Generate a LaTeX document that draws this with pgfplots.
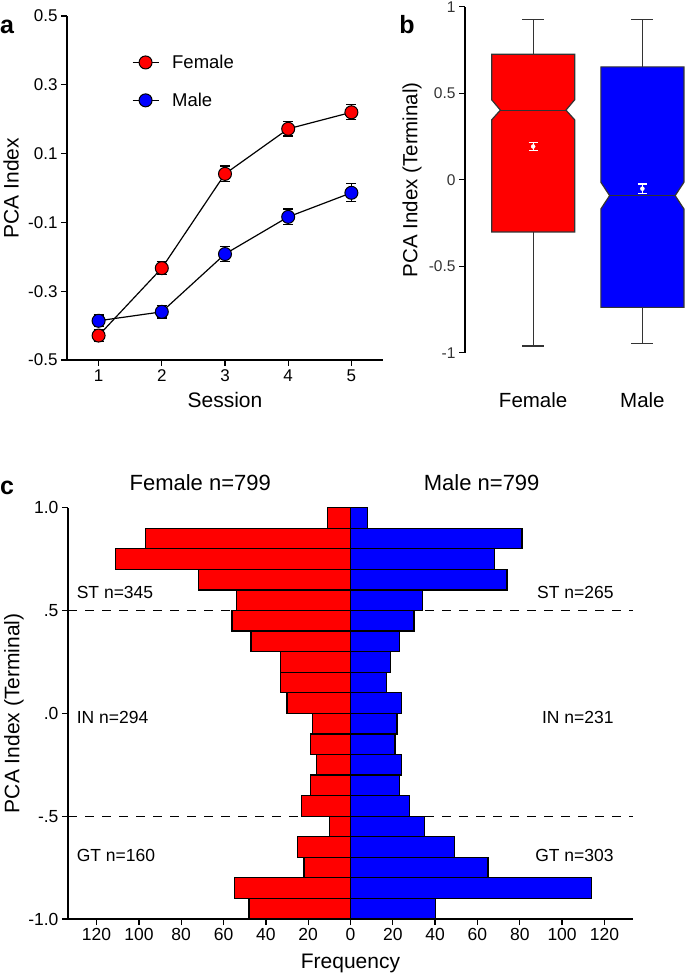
\documentclass[border=0pt]{standalone}
\usepackage{fontspec}
\setmainfont{Liberation Sans}
\usepackage{pgfplots}
\usepackage{pgfplotstable}
\pgfplotsset{compat=1.18}
\newcommand\fs[1]{\fontsize{#1}{#1}\selectfont}
\definecolor{dgray}{HTML}{333333}

\pgfplotstableread{
s F Fe M Me
1 -0.429 0.017 -0.386 0.017
2 -0.233 0.019 -0.360 0.018
3 0.041 0.023 -0.192 0.022
4 0.172 0.021 -0.084 0.023
5 0.220 0.022 -0.014 0.026
}\sessiondata

\begin{document}
\begin{tikzpicture}
\path[use as bounding box] (0pt,0pt) rectangle (685pt,974pt);

\pgfplotsset{
  myaxis/.style={
    scale only axis, anchor=south west,
    /pgf/number format/assume math mode=true,
    axis lines=left, axis line style={-, line width=1.3pt},
    tick align=outside, major tick length=6pt,
    tick style={line width=1.3pt, black},
    clip=false,
  }
}

% ---------------- panel a ----------------
\begin{axis}[myaxis,
  at={(67pt,614pt)}, width=316pt, height=344pt,
  xmin=0.5, xmax=5.5, ymin=-0.5, ymax=0.5,
  xtick={1,2,3,4,5},
  ytick={-0.5,-0.3,-0.1,0.1,0.3,0.5},
  yticklabels={-0.5,-0.3,-0.1,0.1,0.3,0.5},
  tick label style={font=\fs{17}},
  xlabel={Session}, ylabel={PCA Index},
  label style={font=\fs{21}},
  xlabel style={at={(axis description cs:0.5,-0.116)}, anchor=center},
  ylabel style={at={(axis description cs:-0.177,0.5)}, anchor=center},
  legend style={at={(axis description cs:0.205,0.893)}, anchor=north west, draw=none, fill=none,
    font=\fs{18.5}, row sep=19pt, column sep=11pt, inner sep=0pt},
  legend cell align=left,
  legend image code/.code={\draw[mark repeat=2,mark phase=2,#1] plot coordinates {(0pt,0pt) (13pt,0pt) (26pt,0pt)};},
]
\addplot[black, line width=1.2pt, mark=*, mark size=6.5pt,
  mark options={fill=red, draw=black, line width=1pt},
  error bars/.cd, y dir=both, y explicit,
  error bar style={line width=1.2pt, black},
  error mark options={rotate=90, mark size=5pt, line width=1.2pt, black}]
  table[x=s, y=F, y error=Fe] {\sessiondata};
\addlegendentry{Female}
\addplot[black, line width=1.2pt, mark=*, mark size=6.5pt,
  mark options={fill=blue, draw=black, line width=1pt},
  error bars/.cd, y dir=both, y explicit,
  error bar style={line width=1.2pt, black},
  error mark options={rotate=90, mark size=5pt, line width=1.2pt, black}]
  table[x=s, y=M, y error=Me] {\sessiondata};
\addlegendentry{Male}
\end{axis}

% ---------------- panel b ----------------
\begin{axis}[myaxis,
  at={(465pt,621.3pt)}, width=220pt, height=346pt,
  xmin=0.376, xmax=2.39, ymin=-1, ymax=1,
  x axis line style={draw=none},
  xtick={1,2}, xticklabels={Female,Male},
  xtick style={draw=none},
  xticklabel style={font=\fs{20.5}, yshift=-30pt},
  ytick={-1,-0.5,0,0.5,1}, yticklabels={-1,-0.5,0,0.5,1},
  yticklabel style={font=\fs{15.5}, text=dgray},
  ylabel={PCA Index (Terminal)},
  ylabel style={font=\fs{20.5}, at={(axis description cs:-0.241,0.5)}, anchor=center},
]
% whiskers
\addplot[dgray, line width=1.3pt] coordinates {(1,0.725) (1,0.927)};
\addplot[dgray, line width=1.3pt] coordinates {(0.9,0.927) (1.1,0.927)};
\addplot[dgray, line width=1.3pt] coordinates {(1,-0.302) (1,-0.962)};
\addplot[dgray, line width=1.3pt] coordinates {(0.9,-0.962) (1.1,-0.962)};
\addplot[dgray, line width=1.3pt] coordinates {(2,0.652) (2,0.927)};
\addplot[dgray, line width=1.3pt] coordinates {(1.9,0.927) (2.1,0.927)};
\addplot[dgray, line width=1.3pt] coordinates {(2,-0.738) (2,-0.948)};
\addplot[dgray, line width=1.3pt] coordinates {(1.9,-0.948) (2.1,-0.948)};
% notched boxes
\addplot[fill=red, draw=dgray, line width=1.2pt] coordinates {
  (0.62,-0.302) (1.38,-0.302) (1.38,0.346) (1.30,0.402) (1.38,0.462) (1.38,0.725)
  (0.62,0.725) (0.62,0.462) (0.70,0.402) (0.62,0.346)} -- cycle;
\addplot[dgray, line width=1.2pt] coordinates {(0.70,0.402) (1.30,0.402)};
\addplot[fill=blue, draw=dgray, line width=1.2pt] coordinates {
  (1.62,-0.738) (2.38,-0.738) (2.38,-0.169) (2.30,-0.092) (2.38,-0.015) (2.38,0.652)
  (1.62,0.652) (1.62,-0.015) (1.70,-0.092) (1.62,-0.169)} -- cycle;
\addplot[dgray, line width=1.2pt] coordinates {(1.70,-0.092) (2.30,-0.092)};
% means
\addplot[white, only marks, mark=none,
  error bars/.cd, y dir=both, y explicit,
  error bar style={white, line width=1.1pt},
  error mark options={white, rotate=90, mark size=4.5pt, line width=1.1pt}]
  coordinates {(1,0.192) +- (0,0.023) (2,-0.052) +- (0,0.027)};
\end{axis}

% ---------------- panel c ----------------
\begin{axis}[myaxis,
  at={(68pt,55pt)}, width=565pt, height=411.3pt,
  xmin=-133.5, xmax=133.5, ymin=-1, ymax=1,
  xtick={-120,-100,-80,-60,-40,-20,0,20,40,60,80,100,120},
  xticklabels={120,100,80,60,40,20,0,20,40,60,80,100,120},
  ytick={-1,-0.5,0,0.5,1}, yticklabels={-1.0,-.5,.0,.5,1.0},
  tick label style={font=\fs{17.5}},
  xlabel={Frequency}, ylabel={PCA Index (Terminal)},
  label style={font=\fs{21}},
  xlabel style={at={(axis description cs:0.5,-0.107)}, anchor=center},
  ylabel style={at={(axis description cs:-0.0956,0.5)}, anchor=center},
]
\addplot[black, line width=1.3pt, dash pattern=on 9pt off 8pt] coordinates {(-133.5,0.5) (133.5,0.5)};
\addplot[black, line width=1.3pt, dash pattern=on 9pt off 8pt] coordinates {(-133.5,-0.5) (133.5,-0.5)};
\addplot[xbar interval, fill=red, draw=black, line width=1.2pt] coordinates {
  (-48,-1.0) (-55,-0.9) (-22,-0.8) (-25,-0.7) (-10,-0.6) (-23,-0.5) (-19,-0.4) (-16,-0.3)
  (-19,-0.2) (-18,-0.1) (-30,0.0) (-33,0.1) (-33,0.2) (-47,0.3) (-56,0.4) (-54,0.5)
  (-72,0.6) (-111,0.7) (-97,0.8) (-11,0.9) (-11,1.0)};
\addplot[xbar interval, fill=blue, draw=black, line width=1.2pt] coordinates {
  (40,-1.0) (114,-0.9) (65,-0.8) (49,-0.7) (35,-0.6) (28,-0.5) (23,-0.4) (24,-0.3)
  (21,-0.2) (22,-0.1) (24,0.0) (17,0.1) (19,0.2) (23,0.3) (30,0.4) (34,0.5)
  (74,0.6) (68,0.7) (81,0.8) (8,0.9) (8,1.0)};
\node[anchor=west, font=\fs{17.5}] at (axis cs:-131,0.59) {ST n=345};
\node[anchor=east, font=\fs{17.5}] at (axis cs:126,0.59) {ST n=265};
\node[anchor=west, font=\fs{17.5}] at (axis cs:-131,-0.02) {IN n=294};
\node[anchor=east, font=\fs{17.5}] at (axis cs:126,-0.02) {IN n=231};
\node[anchor=west, font=\fs{17.5}] at (axis cs:-131,-0.69) {GT n=160};
\node[anchor=east, font=\fs{17.5}] at (axis cs:126,-0.69) {GT n=303};
\node[font=\fs{22}] at (axis cs:-71,1.12) {Female n=799};
\node[font=\fs{22}] at (axis cs:62,1.12) {Male n=799};
\end{axis}

\node[font=\bfseries\fs{25}] at (7pt,947pt) {a};
\node[font=\bfseries\fs{25}] at (407pt,949pt) {b};
\node[font=\bfseries\fs{25}] at (7pt,486pt) {c};
\end{tikzpicture}
\end{document}
